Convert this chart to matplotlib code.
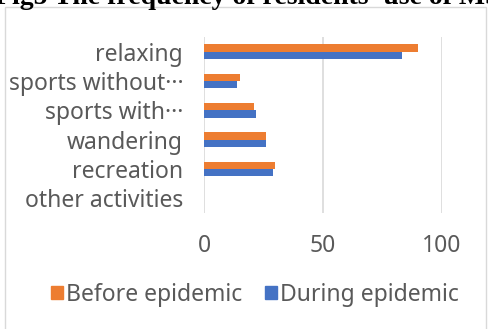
import numpy as np
import matplotlib.pyplot as plt
from matplotlib.patches import Patch, Rectangle

categories = ["relaxing", "sports without\u00b7\u00b7\u00b7", "sports with\u00b7\u00b7\u00b7",
              "wandering", "recreation", "other activities"]
before = [90, 15, 21, 26, 30, 0]
during = [83, 14, 22, 26, 29, 0]
xticks = [0, 50, 100]

W, H = 489, 329
fig = plt.figure(figsize=(W / 100, H / 100), dpi=100)
plt.rcParams['font.family'] = ['Noto Sans', 'DejaVu Sans']

# chart frame
fig.patches.append(Rectangle((4.5 / W, -0.05), (486 - 4.5) / W, 1.05 - 7 / H,
                             transform=fig.transFigure, fill=False,
                             edgecolor="#d9d9d9", linewidth=1.0))

# caption above the chart, cut by the top edge as in the source
fig.text(-0.01, 1 - 4 / H, "Fig5 The frequency of residents' use of MSPs",
         family="Liberation Serif", fontweight="bold", fontsize=20,
         va="baseline", ha="left")

ax = fig.add_axes([204 / W, 1 - 213 / H, (442 - 204) / W, (213 - 37) / H])
y = np.arange(len(categories))
h = 0.25
ax.barh(y - h / 2, before, height=h, color="#ed7d31", label="Before epidemic", zorder=3)
ax.barh(y + h / 2, during, height=h, color="#4472c4", label="During epidemic", zorder=3)

ax.set_ylim(len(categories) - 0.5, -0.5)
ax.set_xlim(0, 100)
ax.set_xticks(xticks)
ax.set_yticks(y)
ax.set_yticklabels(categories)
ax.grid(axis="x", color="#d9d9d9", linewidth=1.2, zorder=0)
for s in ax.spines.values():
    s.set_visible(False)
ax.tick_params(axis="both", length=0, labelsize=16.5, labelcolor="#595959")
ax.tick_params(axis="x", pad=15)
ax.tick_params(axis="y", pad=15)

handles = [Patch(color="#ed7d31"), Patch(color="#4472c4")]
fig.legend(handles, ["Before epidemic", "During epidemic"], loc="center",
           bbox_to_anchor=(255 / W, 1 - 295 / H), ncol=2, frameon=False,
           fontsize=16.5, labelcolor="#595959", handlelength=0.5,
           handleheight=0.5, handletextpad=0.15, columnspacing=1.0)

fig.savefig("out.png", dpi=100)
